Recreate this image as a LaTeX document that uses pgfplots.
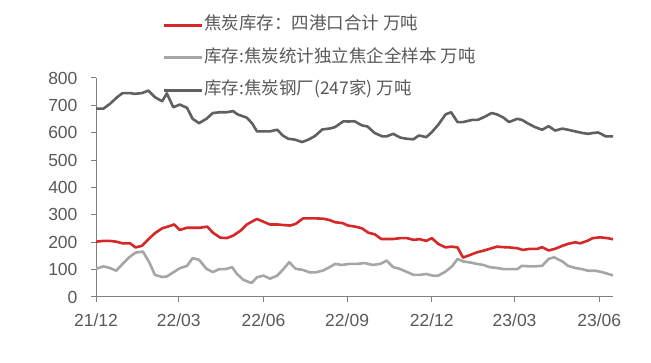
\documentclass[border=0pt]{standalone}
\usepackage{pgfplots}
\pgfplotsset{compat=1.18}
\usepackage{pgfplotstable}
\usepackage{fontspec}
\setmainfont{Liberation Sans}
\newfontfamily\cjk{Noto Sans CJK SC}
\definecolor{cred}{RGB}{214,40,40}
\definecolor{cdark}{RGB}{96,96,96}
\definecolor{clight}{RGB}{166,166,166}
\definecolor{ctext}{RGB}{89,89,89}
\definecolor{caxis}{RGB}{128,128,128}

\pgfplotstableread{
d v
0 202
8 205
15 205
22 202
29 196
37 196
43 181
50 187
57 211
64 233
72 251
78 257
85 265
91 245
99 253
105 253
113 253
121 257
127 235
135 217
142 215
149 224
157 242
164 265
171 278
175 285
182 275
189 265
197 265
203 263
211 261
217 267
225 287
233 287
240 287
247 286
254 281
260 273
268 270
274 261
282 257
289 251
296 235
303 229
310 212
316 212
323 212
331 215
338 215
345 209
352 211
359 205
365 215
372 194
380 181
386 184
393 181
399 144
407 154
414 163
421 169
428 176
436 184
443 182
450 181
458 178
464 172
472 176
480 176
485 182
492 170
499 176
507 187
513 194
521 200
526 196
534 205
540 215
548 218
556 215
562 211
}\port

\pgfplotstableread{
d v
0 103
8 112
15 106
22 96
29 121
36 145
43 162
51 166
58 126
64 81
72 73
77 75
84 90
91 105
99 114
105 142
112 136
120 103
127 91
134 102
141 102
148 109
153 85
160 63
169 51
175 72
182 78
189 67
197 78
203 99
210 127
217 103
225 99
232 90
239 90
247 97
254 109
260 121
267 117
276 121
284 121
292 124
301 117
309 121
316 133
323 109
330 103
337 93
345 81
352 81
359 84
366 78
372 78
380 93
387 112
393 139
399 130
407 126
414 121
421 117
428 109
436 106
443 102
450 102
458 102
463 114
470 112
477 112
485 114
492 139
498 145
507 130
513 114
521 106
528 102
535 96
543 96
550 91
556 85
562 79
}\coking

\pgfplotstableread{
d v
0 688
8 688
15 705
23 730
29 745
37 745
42 742
50 745
57 754
64 730
72 715
77 744
84 693
91 703
99 691
105 651
112 635
120 651
127 672
135 675
142 675
149 679
154 667
164 655
170 633
175 605
182 605
189 605
197 611
203 590
209 578
216 575
224 566
231 575
238 588
246 612
255 616
260 621
269 642
274 641
281 642
289 627
295 623
303 599
311 587
316 587
323 596
331 582
338 578
345 576
351 590
359 584
365 602
372 629
380 667
386 675
393 639
399 639
409 647
415 647
423 659
430 672
436 667
443 655
449 639
458 651
463 647
470 633
477 621
485 611
492 624
499 608
507 615
513 611
521 605
529 599
535 596
540 599
546 601
554 587
562 587
}\steel

\begin{document}
\begin{tikzpicture}
\useasboundingbox (0,0) rectangle (651pt,363pt);
\begin{axis}[
  at={(96pt,66pt)}, anchor=south west,
  scale only axis, width=517pt, height=219pt,
  xmin=0, xmax=562, ymin=0, ymax=800,
  axis x line*=bottom, axis y line*=left,
  axis line style={draw=caxis, line width=1pt},
  tick style={draw=caxis, line width=1pt},
  major tick length=5pt, tick align=outside,
  xtick={0,90,182,273,365,455,547},
  xticklabels={21/12,22/03,22/06,22/09,22/12,23/03,23/06},
  ytick={0,100,...,800},
  /pgf/number format/assume math mode=true,
  ticklabel style={font=\fontsize{17.5}{20}\selectfont, text=ctext},
  yticklabel style={xshift=-10pt},
  xticklabel style={yshift=-8pt},
  legend style={at={(0.128,1.285)}, anchor=north west, draw=none, fill=none,
    inner sep=0pt, row sep=13.5pt, font=\cjk\fontsize{17.5}{20}\selectfont, text=ctext,
    nodes={inner sep=1pt, text height=13pt, text depth=4pt}},
  legend cell align=left,
  legend image code/.code={\draw[#1, line width=3pt] (0pt,0pt) -- (38pt,0pt);},
]
\addplot[cred, line width=2.6pt, line join=round] table[x=d,y=v] {\port};
\addlegendentry{焦炭库存：四港口合计 万吨}
\addplot[clight, line width=2.6pt, line join=round] table[x=d,y=v] {\coking};
\addlegendentry{库存:焦炭统计独立焦企全样本 万吨}
\addplot[cdark, line width=2.6pt, line join=round] table[x=d,y=v] {\steel};
\addlegendentry{库存:焦炭钢厂(247家) 万吨}
\end{axis}
\end{tikzpicture}
\end{document}
